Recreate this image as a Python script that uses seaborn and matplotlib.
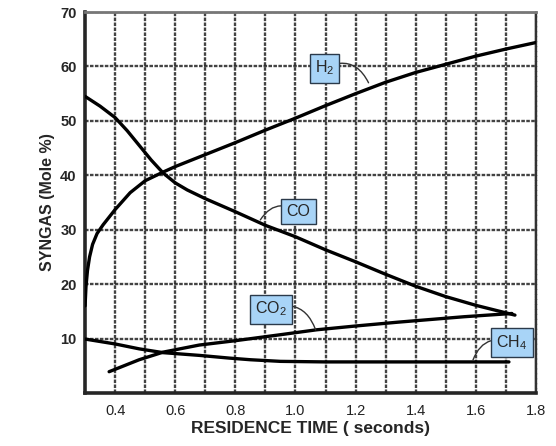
import pandas as pd
import matplotlib
matplotlib.use('Agg')
import matplotlib.pyplot as plt
import seaborn as sns

sns.set_style('white')
plt.rcParams['font.family'] = ['Liberation Sans', 'DejaVu Sans']
plt.rcParams['mathtext.fontset'] = 'custom'
plt.rcParams['mathtext.rm'] = 'Liberation Sans'
plt.rcParams['mathtext.it'] = 'Liberation Sans'

# values (residence time in s, mole %)
h2_time = [0.30, 0.303, 0.308, 0.315, 0.325, 0.34, 0.36, 0.38, 0.40, 0.45, 0.50, 0.56,
           0.60, 0.70, 0.80, 0.90, 1.00, 1.10, 1.20, 1.30, 1.40, 1.50, 1.60, 1.70, 1.80]
h2 = [16.0, 19.5, 22.5, 25.0, 27.3, 29.3, 30.9, 32.3, 33.7, 36.8, 39.0, 40.6,
      41.6, 43.8, 46.0, 48.3, 50.5, 52.8, 55.0, 57.1, 58.9, 60.4, 61.9, 63.2, 64.4]

co_time = [0.30, 0.35, 0.40, 0.44, 0.48, 0.52, 0.56, 0.60, 0.64, 0.70, 0.80, 0.90,
           1.00, 1.10, 1.20, 1.30, 1.40, 1.50, 1.60, 1.73]
co = [54.5, 52.7, 50.6, 48.2, 45.5, 42.8, 40.4, 38.6, 37.3, 35.7, 33.3, 30.8,
      28.7, 26.3, 24.1, 21.8, 19.6, 17.7, 16.1, 14.3]

co2_time = [0.38, 0.43, 0.48, 0.56, 0.68, 0.80, 0.95, 1.07, 1.20, 1.34, 1.56, 1.72]
co2 = [3.9, 5.0, 6.1, 7.5, 8.8, 9.6, 10.7, 11.6, 12.3, 13.0, 14.0, 14.6]

ch4_time = [0.30, 0.40, 0.48, 0.56, 0.68, 0.78, 0.85, 0.95, 1.10, 1.30, 1.50, 1.71]
ch4 = [9.9, 9.0, 8.1, 7.4, 6.9, 6.4, 6.1, 5.8, 5.7, 5.7, 5.7, 5.7]

gases = ['H2', 'CO', 'CO2', 'CH4']
label_text = [r'H$_2$', 'CO', r'CO$_2$', r'CH$_4$']

frames = []
for name, t, v in zip(gases, [h2_time, co_time, co2_time, ch4_time], [h2, co, co2, ch4]):
    frames.append(pd.DataFrame({'time': t, 'mole': v, 'gas': name}))
df = pd.concat(frames, ignore_index=True)

fig = plt.figure(figsize=(5.56, 4.46), dpi=100)
ax = fig.add_axes([0.153, 0.119, 0.811, 0.854])

sns.lineplot(data=df, x='time', y='mole', hue='gas', units='gas', estimator=None,
             sort=False, palette=['black'] * 4, linewidth=2.4, legend=False, ax=ax, zorder=3)

ax.set_xlim(0.3, 1.8)
ax.set_ylim(0, 70)

# grid every 0.1 s and every 10 %
ax.set_xticks([round(0.4 + 0.2 * i, 1) for i in range(8)])
ax.set_xticks([round(0.5 + 0.2 * i, 1) for i in range(7)], minor=True)
ax.set_yticks(range(10, 71, 10))
grid_style = dict(color='#222222', linewidth=1.7, linestyle=(0, (1.5, 0.6)), alpha=0.85)
ax.grid(True, which='both', **grid_style)
ax.tick_params(which='both', length=0)
ax.tick_params(axis='x', pad=8, labelsize=10.5, labelcolor='#222222')
ax.tick_params(axis='y', pad=6, labelsize=10.5)
for lab in ax.get_yticklabels():
    lab.set_fontweight('bold')
ax.set_xticklabels(['0.4', '0.6', '0.8', '1.0', '1.2', '1.4', '1.6', '1.8'])

ax.spines['left'].set_linewidth(2.6)
ax.spines['bottom'].set_linewidth(2.6)
ax.spines['top'].set_linewidth(2.0)
ax.spines['top'].set_color('#777777')
ax.spines['right'].set_linewidth(1.7)
ax.spines['right'].set_color('#333333')
ax.spines['right'].set_linestyle((0, (1.5, 0.6)))

ax.set_xlabel('RESIDENCE TIME ( seconds)', fontsize=12.5, fontweight='bold', labelpad=2)
ax.set_ylabel('SYNGAS (Mole %)', fontsize=11.5, fontweight='bold', labelpad=4)

# callout boxes: text position and point on curve
box_pos = [(1.097, 59.7), (1.01, 33.3), (0.917, 15.4), (1.72, 9.2)]
tip_pos = [(1.243, 57.0), (0.883, 31.8), (1.067, 11.6), (1.59, 6.0)]
rads = [-0.5, 0.5, -0.5, 0.5]
for txt, bp, tp, r in zip(label_text, box_pos, tip_pos, rads):
    ax.annotate(txt, xy=tp, xytext=bp, ha='center', va='center', fontsize=11.5,
                zorder=5,
                bbox=dict(boxstyle='square,pad=0.32', facecolor='#a8d4f7',
                          edgecolor='#2b3a4a', linewidth=1.0),
                arrowprops=dict(arrowstyle='-', color='#333333', linewidth=1.0,
                                connectionstyle=f'arc3,rad={r}', shrinkA=0, shrinkB=0))

fig.savefig('out.png', dpi=100)
